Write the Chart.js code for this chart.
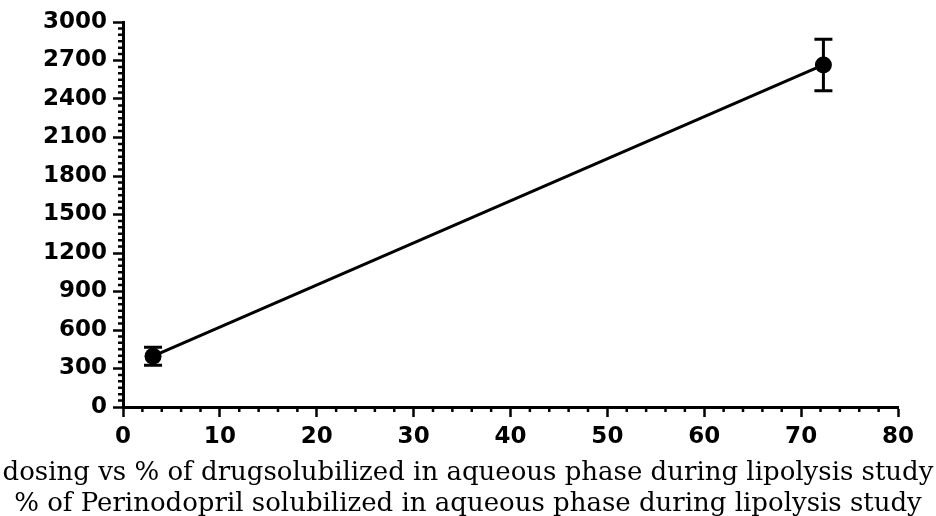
<!DOCTYPE html>
<html>
<head>
<meta charset="utf-8">
<script src="https://cdn.jsdelivr.net/npm/chart.js@4"></script>
<style>
  html, body { margin: 0; padding: 0; background: #fff; overflow: hidden; }
</style>
</head>
<body>
<canvas id="chart" width="936" height="516"></canvas>
<script>
// data
const xValues = [3.1, 72.3]
const yValues = [396, 2665]
const yErrors = [70, 200]

const xTickLabels = [0, 10, 20, 30, 40, 50, 60, 70, 80]
const yTickLabels = [0, 300, 600, 900, 1200, 1500, 1800, 2100, 2400, 2700, 3000]
const xMinorStep = 2
const yMinorStep = 50

const titleLines = [
    'dosing vs % of drugsolubilized in aqueous phase during lipolysis study',
    '% of Perinodopril solubilized in aqueous phase during lipolysis study'
]

// error bars + minor ticks
const extrasPlugin = {
    id: 'extras',
    afterDatasetsDraw(chart) {
        const ctx = chart.ctx
        const x = chart.scales.x
        const y = chart.scales.y
        ctx.save()
        ctx.strokeStyle = '#000'
        ctx.lineWidth = 3
        xValues.forEach((xv, i) => {
            const px = x.getPixelForValue(xv)
            const top = y.getPixelForValue(yValues[i] + yErrors[i])
            const bot = y.getPixelForValue(yValues[i] - yErrors[i])
            ctx.beginPath()
            ctx.moveTo(px, top)
            ctx.lineTo(px, bot)
            ctx.moveTo(px - 9, top)
            ctx.lineTo(px + 9, top)
            ctx.moveTo(px - 9, bot)
            ctx.lineTo(px + 9, bot)
            ctx.stroke()
        })
        ctx.lineWidth = 2.5
        ctx.beginPath()
        for (let v = y.min; v <= y.max; v += yMinorStep) {
            if (v % 300 === 0) continue
            const py = y.getPixelForValue(v)
            ctx.moveTo(y.right - 5, py)
            ctx.lineTo(y.right, py)
        }
        for (let v = x.min; v <= x.max; v += xMinorStep) {
            if (v % 10 === 0) continue
            const px = x.getPixelForValue(v)
            ctx.moveTo(px, x.top)
            ctx.lineTo(px, x.top + 5)
        }
        ctx.stroke()
        ctx.restore()
    }
}

window.addEventListener('load', () => {
    const el = document.getElementById('chart')
    const tickFont = { family: 'DejaVu Sans', size: 23, weight: 'bold' }
    new Chart(el, {
        type: 'scatter',
        data: {
            datasets: [
                {
                    data: xValues.map((xv, i) => ({ x: xv, y: yValues[i] })),
                    showLine: true,
                    borderColor: '#000',
                    backgroundColor: '#000',
                    borderWidth: 3,
                    pointRadius: 8.5,
                    pointBorderWidth: 0
                }
            ]
        },
        options: {
            responsive: false,
            animation: false,
            layout: {
                padding: { left: 0, right: 0, top: 22, bottom: -4 }
            },
            plugins: {
                legend: { display: false },
                tooltip: { enabled: false },
                title: {
                    display: true,
                    position: 'bottom',
                    text: titleLines,
                    color: '#000',
                    padding: 0,
                    font: { family: 'DejaVu Serif', size: 26, weight: 'normal', lineHeight: 31 / 26 }
                }
            },
            scales: {
                x: {
                    type: 'linear',
                    min: xTickLabels[0],
                    max: xTickLabels[xTickLabels.length - 1],
                    afterBuildTicks: (scale) => { scale.ticks = xTickLabels.map(v => ({ value: v })) },
                    afterFit: (scale) => { scale.height = 51 },
                    border: { display: true, color: '#000', width: 3 },
                    grid: { drawOnChartArea: false, tickLength: 10, tickColor: '#000', tickWidth: 2.5 },
                    ticks: {
                        color: '#000',
                        padding: 6,
                        maxRotation: 0,
                        font: tickFont,
                        callback: (v) => String(v)
                    }
                },
                y: {
                    type: 'linear',
                    min: yTickLabels[0],
                    max: yTickLabels[yTickLabels.length - 1],
                    afterBuildTicks: (scale) => { scale.ticks = yTickLabels.map(v => ({ value: v })) },
                    afterFit: (scale) => { scale.width = 123 },
                    border: { display: true, color: '#000', width: 3 },
                    grid: { drawOnChartArea: false, tickLength: 10, tickColor: '#000', tickWidth: 2.5 },
                    ticks: {
                        color: '#000',
                        padding: 6,
                        font: tickFont,
                        callback: (v) => String(v)
                    }
                },
                // empty right-hand axis, only keeps room for the "80" label
                yRight: {
                    type: 'linear',
                    position: 'right',
                    display: true,
                    afterFit: (scale) => { scale.width = 38 },
                    border: { display: false },
                    grid: { display: false },
                    ticks: { display: false }
                }
            }
        },
        plugins: [extrasPlugin]
    })
})
</script>
</body>
</html>
